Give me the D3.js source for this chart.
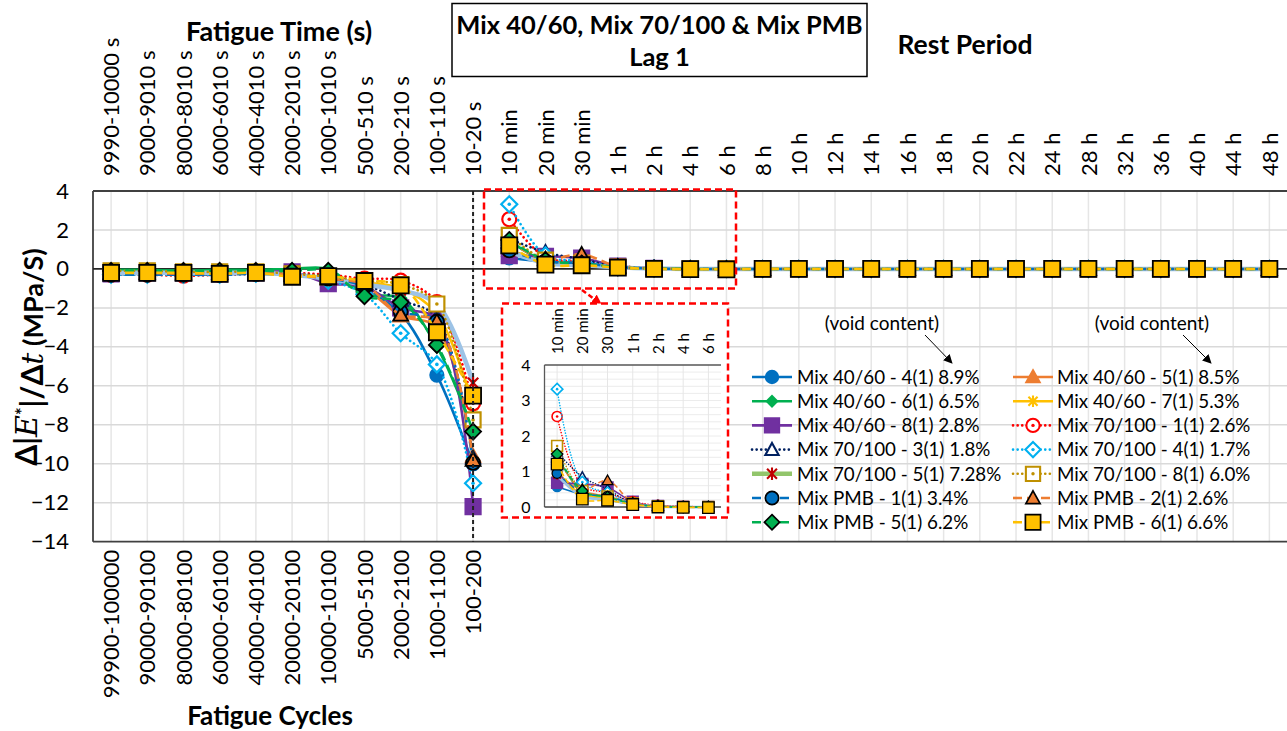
<!DOCTYPE html>
<html><head><meta charset="utf-8">
<script src="https://cdn.jsdelivr.net/npm/d3@7"></script>
<style>
body{margin:0;background:#fff}
svg{display:block}
text{font-family:Lato,"Open Sans","Noto Sans",sans-serif;fill:#000}
</style></head>
<body><svg id="chart" width="1287" height="731"></svg>
<script>
// ---------- DATA ----------
const fatigueTimeLabels = ["9990-10000 s","9000-9010 s","8000-8010 s","6000-6010 s","4000-4010 s","2000-2010 s","1000-1010 s","500-510 s","200-210 s","100-110 s","10-20 s"];
const restLabels = ["10 min","20 min","30 min","1 h","2 h","4 h","6 h","8 h","10 h","12 h","14 h","16 h","18 h","20 h","22 h","24 h","28 h","32 h","36 h","40 h","44 h","48 h"];
const cycleLabels = ["99900-100000","90000-90100","80000-80100","60000-60100","40000-40100","20000-20100","10000-10100","5000-5100","2000-2100","1000-1100","100-200"];
const yTicks = [4,2,0,-2,-4,-6,-8,-10,-12,-14];
const insetTicks = [0,1,2,3,4];
const insetCount = 7; // 10 min .. 6 h

const seriesNames = ["Mix 40/60 - 4(1) 8.9%","Mix 40/60 - 5(1) 8.5%","Mix 40/60 - 6(1) 6.5%","Mix 40/60 - 7(1) 5.3%","Mix 40/60 - 8(1) 2.8%","Mix 70/100 - 1(1) 2.6%","Mix 70/100 - 3(1) 1.8%","Mix 70/100 - 4(1) 1.7%","Mix 70/100 - 5(1) 7.28%","Mix 70/100 - 8(1) 6.0%","Mix PMB - 1(1) 3.4%","Mix PMB - 2(1) 2.6%","Mix PMB - 5(1) 6.2%","Mix PMB - 6(1) 6.6%"];

const mix4060_4_fatigue = [-0.3,-0.25,-0.25,-0.3,-0.2,-0.3,-0.5,-1.1,-2.3,-5.45,-10.0];
const mix4060_4_rest    = [0.57,0.35,0.2,0.08,0.02,0,-0.01,0,0,0,0,0,0,0,0,0,0,0,0,0,0,0];
const mix4060_5_fatigue = [-0.2,-0.2,-0.2,-0.2,-0.2,-0.3,-0.5,-1.0,-2.4,-3.0,-9.6];
const mix4060_5_rest    = [0.95,0.45,0.3,0.1,0.03,0.01,0,0,0,0,0,0,0,0,0,0,0,0,0,0,0,0];
const mix4060_6_fatigue = [-0.05,-0.05,-0.1,-0.05,-0.05,0.0,0.0,-1.3,-1.5,-4.0,-8.3];
const mix4060_6_rest    = [1.45,0.4,0.25,0.1,0.02,0,0,0,0,0,0,0,0,0,0,0,0,0,0,0,0,0];
const mix4060_7_fatigue = [-0.2,-0.2,-0.2,-0.2,-0.25,-0.3,-0.5,-0.7,-1.0,-2.3,-7.0];
const mix4060_7_rest    = [1.0,0.35,0.25,0.1,0.03,0,0,0,0,0,0,0,0,0,0,0,0,0,0,0,0,0];
const mix4060_8_fatigue = [-0.25,-0.2,-0.2,-0.25,-0.2,-0.15,-0.75,-0.9,-2.0,-2.6,-12.2];
const mix4060_8_rest    = [0.68,0.65,0.55,0.15,0.03,0.01,0,0,0,0,0,0,0,0,0,0,0,0,0,0,0,0];
const mix70100_1_fatigue = [-0.3,-0.3,-0.35,-0.3,-0.25,-0.2,-0.3,-0.5,-0.6,-1.7,-6.9];
const mix70100_1_rest    = [2.55,0.6,0.4,0.15,0.05,0.02,0,0,0,0,0,0,0,0,0,0,0,0,0,0,0,0];
const mix70100_3_fatigue = [-0.2,-0.2,-0.2,-0.2,-0.2,-0.25,-0.4,-0.8,-1.6,-2.5,-9.7];
const mix70100_3_rest    = [1.55,0.85,0.5,0.1,0.03,0,0,0,0,0,0,0,0,0,0,0,0,0,0,0,0,0];
const mix70100_4_fatigue = [-0.3,-0.3,-0.3,-0.3,-0.25,-0.3,-0.6,-1.3,-3.3,-4.9,-11.0];
const mix70100_4_rest    = [3.32,0.7,0.4,0.1,0.02,0,0,0,0,0,0,0,0,0,0,0,0,0,0,0,0,0];
const mix70100_5_fatigue = [-0.2,-0.2,-0.2,-0.2,-0.2,-0.3,-0.5,-0.8,-1.1,-1.8,-5.85];
const mix70100_5_rest    = [0.9,0.3,0.2,0.08,0.02,0,0,0,0,0,0,0,0,0,0,0,0,0,0,0,0,0];
const mix70100_8_fatigue = [-0.1,-0.1,-0.15,-0.15,-0.15,-0.25,-0.4,-0.6,-0.8,-1.8,-7.75];
const mix70100_8_rest    = [1.72,0.45,0.3,0.1,0.02,0,0,0,0,0,0,0,0,0,0,0,0,0,0,0,0,0];
const pmb1_fatigue = [-0.3,-0.3,-0.3,-0.3,-0.25,-0.3,-0.5,-0.9,-2.2,-2.7,-9.95];
const pmb1_rest    = [0.95,0.4,0.3,0.1,0.02,0,0,0,0,0,0,0,0,0,0,0,0,0,0,0,0,0];
const pmb2_fatigue = [-0.2,-0.2,-0.25,-0.2,-0.2,-0.3,-0.5,-0.8,-2.35,-2.7,-9.8];
const pmb2_rest    = [1.4,0.5,0.75,0.12,0.03,0,0,0,0,0,0,0,0,0,0,0,0,0,0,0,0,0];
const pmb5_fatigue = [-0.1,-0.1,-0.1,-0.1,-0.1,-0.1,-0.1,-1.4,-1.7,-3.9,-8.35];
const pmb5_rest    = [1.49,0.45,0.28,0.08,0.02,0,0,0,0,0,0,0,0,0,0,0,0,0,0,0,0,0];
const pmb6_fatigue = [-0.2,-0.2,-0.2,-0.25,-0.2,-0.4,-0.37,-0.62,-0.84,-3.25,-6.5];
const pmb6_rest    = [1.21,0.22,0.19,0.07,0,-0.01,-0.02,0,0,0,0,0,0,0,0,0,0,0,0,0,0,0];

const fatigueSeries = [mix4060_4_fatigue,mix4060_5_fatigue,mix4060_6_fatigue,mix4060_7_fatigue,mix4060_8_fatigue,mix70100_1_fatigue,mix70100_3_fatigue,mix70100_4_fatigue,mix70100_5_fatigue,mix70100_8_fatigue,pmb1_fatigue,pmb2_fatigue,pmb5_fatigue,pmb6_fatigue];
const restSeries = [mix4060_4_rest,mix4060_5_rest,mix4060_6_rest,mix4060_7_rest,mix4060_8_rest,mix70100_1_rest,mix70100_3_rest,mix70100_4_rest,mix70100_5_rest,mix70100_8_rest,pmb1_rest,pmb2_rest,pmb5_rest,pmb6_rest];

// ---------- STYLES ----------
const styles = [
 {c:"#0070C0", dash:"solid", m:"circle", fill:"#0070C0", stroke:"#0070C0", size:13},
 {c:"#ED7D31", dash:"solid", m:"triangle", fill:"#ED7D31", stroke:"#ED7D31", size:14},
 {c:"#00B050", dash:"solid", m:"diamond", fill:"#00B050", stroke:"#00B050", size:11},
 {c:"#FFC000", dash:"solid", m:"star", fill:"none", stroke:"#FFC000", size:12},
 {c:"#7030A0", dash:"solid", m:"square", fill:"#7030A0", stroke:"#7030A0", size:15},
 {c:"#FF0000", dash:"dot", m:"circle", fill:"#fff", stroke:"#FF0000", size:14, dot:true},
 {c:"#002060", dash:"dot", m:"triangle", fill:"#fff", stroke:"#002060", size:14},
 {c:"#00B0F0", dash:"dot", m:"diamond", fill:"#fff", stroke:"#00B0F0", size:16, dot:true},
 {c:"#9DC3E6", legendC:"#92C56B", dash:"solid", w:4.5, m:"star", fill:"none", stroke:"#C00000", size:13},
 {c:"#BF9000", dash:"dot", m:"square", fill:"#fff", stroke:"#BF9000", size:15, dot:true},
 {c:"#0070C0", dash:"dash", m:"circle", fill:"#0070C0", stroke:"#000", size:14},
 {c:"#ED7D31", dash:"dash", m:"triangle", fill:"#ED7D31", stroke:"#000", size:15},
 {c:"#00B050", dash:"dash", m:"diamond", fill:"#00B050", stroke:"#000", size:16},
 {c:"#FFC000", dash:"dash", m:"square", fill:"#FFC000", stroke:"#000", size:16}
];

const svg = d3.select("#chart");
const plot = {l:93, r:1287.5, t:191, b:541.7};
const allLabels = fatigueTimeLabels.concat(restLabels);
const x = d3.scalePoint().domain(allLabels).range([plot.l, plot.r]).padding(0.5);
const step = x.step();
const xCyc = d3.scalePoint().domain(cycleLabels).range([plot.l, plot.l + step*cycleLabels.length]).padding(0.5);
const y = d3.scaleLinear().domain([-14,4]).range([plot.b, plot.t]);

function markerPath(type, s){
  const h = s/2;
  switch(type){
    case "circle": return `M${h},0A${h},${h} 0 1,1 ${-h},0A${h},${h} 0 1,1 ${h},0Z`;
    case "square": return `M${-h},${-h}H${h}V${h}H${-h}Z`;
    case "diamond": return `M0,${-h}L${h},0L0,${h}L${-h},0Z`;
    case "triangle": return `M0,${-h}L${h},${h*0.8}L${-h},${h*0.8}Z`;
    case "star": return `M${-h*0.8},${-h*0.8}L${h*0.8},${h*0.8}M${-h*0.8},${h*0.8}L${h*0.8},${-h*0.8}M0,${-h}V${h}`;
  }
}
function dashArray(d, scale){
  if(d==="dot") return `0.1,${4.5*scale}`;
  if(d==="dash") return `${9*scale},${5*scale}`;
  return null;
}
function drawMarker(g, st, cx, cy, k){
  const s = st.size*k;
  g.append("path").attr("d", markerPath(st.m, s)).attr("transform",`translate(${cx},${cy})`)
    .attr("fill", st.fill).attr("stroke", st.stroke)
    .attr("stroke-width", (st.m==="star"?2.2:(st.stroke==="#000"?1.8:2.2))*k)
    .attr("stroke-linejoin","miter");
  if(st.dot) g.append("circle").attr("cx",cx).attr("cy",cy).attr("r",1.8*k).attr("fill",st.stroke);
}

// ---------- GRID ----------
const grid = svg.append("g");
grid.selectAll("line.v").data(allLabels).join("line")
  .attr("x1",d=>x(d)).attr("x2",d=>x(d)).attr("y1",plot.t).attr("y2",plot.b)
  .attr("stroke","#e6e6e6").attr("stroke-width",1.5);
grid.selectAll("line.h").data(yTicks.filter(v=>v!==0 && v!==4 && v!==-14)).join("line")
  .attr("x1",plot.l).attr("x2",plot.r).attr("y1",d=>y(d)).attr("y2",d=>y(d))
  .attr("stroke","#d9d9d9").attr("stroke-width",1.5);

// frame
svg.append("line").attr("x1",plot.l).attr("x2",plot.r).attr("y1",plot.t).attr("y2",plot.t).attr("stroke","#404040").attr("stroke-width",1.8);
svg.append("line").attr("x1",plot.l).attr("x2",plot.r).attr("y1",plot.b).attr("y2",plot.b).attr("stroke","#404040").attr("stroke-width",1.8);
svg.append("line").attr("x1",plot.l).attr("x2",plot.l).attr("y1",plot.t).attr("y2",plot.b).attr("stroke","#404040").attr("stroke-width",1.8);
svg.append("line").attr("x1",plot.l).attr("x2",plot.r).attr("y1",y(0)).attr("y2",y(0)).attr("stroke","#262626").attr("stroke-width",1.8);

// ---------- AXES ----------
const topAxis = svg.append("g").attr("transform",`translate(0,${plot.t})`)
  .call(d3.axisTop(x).tickSize(0));
topAxis.select(".domain").remove();
topAxis.selectAll("text").attr("transform","rotate(-90)").attr("x",15).attr("y",0).attr("dy","0.35em")
  .attr("text-anchor","start").style("font-size","22px").style("font-family","Lato");

const botAxis = svg.append("g").attr("transform",`translate(0,${plot.b})`)
  .call(d3.axisBottom(xCyc).tickSize(0));
botAxis.select(".domain").remove();
botAxis.selectAll("text").attr("transform","rotate(-90)").attr("x",-8).attr("y",0).attr("dy","0.35em")
  .attr("text-anchor","end").style("font-size","22px").style("font-family","Lato");

const leftAxis = svg.append("g").attr("transform",`translate(${plot.l},0)`)
  .call(d3.axisLeft(y).tickValues(yTicks).tickSize(0).tickPadding(24));
leftAxis.select(".domain").remove();
leftAxis.selectAll("text").style("font-size","22px").style("font-family","Lato");

// ---------- SERIES (main) ----------
const lineGen = d3.line().curve(d3.curveCatmullRom.alpha(0.5));
const seriesG = svg.append("g");
fatigueSeries.forEach((fv, si)=>{
  const st = styles[si];
  const g = seriesG.append("g");
  const segs = [
    fv.map((v,i)=>[x(fatigueTimeLabels[i]), y(v)]),
    restSeries[si].map((v,i)=>[x(restLabels[i]), y(v)])
  ];
  segs.forEach(pts=>{
    g.append("path").attr("d", lineGen(pts)).attr("fill","none").attr("stroke", st.c)
      .attr("stroke-width", st.w || 2.6).attr("stroke-linecap", st.dash==="dot"?"round":"butt")
      .attr("stroke-dasharray", dashArray(st.dash,1));
  });
  segs.forEach(pts=>pts.forEach(p=>drawMarker(g, st, p[0], p[1], 1)));
});

// dashed separator
svg.append("line").attr("x1",x(fatigueTimeLabels[10])).attr("x2",x(fatigueTimeLabels[10]))
  .attr("y1",plot.t).attr("y2",plot.b).attr("stroke","#222").attr("stroke-width",2).attr("stroke-dasharray","4,3");

// ---------- HIGHLIGHT + INSET ----------
svg.append("rect").attr("x",484).attr("y",189.5).attr("width",252).attr("height",99)
  .attr("fill","none").attr("stroke","#FF0000").attr("stroke-width",2.5).attr("stroke-dasharray","7,4");
const defs = svg.append("defs");
defs.append("marker").attr("id","redHead").attr("viewBox","0 0 10 10").attr("refX",9).attr("refY",5)
  .attr("markerWidth",4).attr("markerHeight",4).attr("orient","auto")
  .append("path").attr("d","M0,0L10,5L0,10Z").attr("fill","#FF0000");
defs.append("marker").attr("id","blkHead").attr("viewBox","0 0 10 10").attr("refX",9).attr("refY",5)
  .attr("markerWidth",9).attr("markerHeight",9).attr("orient","auto").attr("markerUnits","userSpaceOnUse")
  .append("path").attr("d","M0,0L10,5L0,10Z").attr("fill","#000");
svg.append("line").attr("x1",582).attr("y1",290).attr("x2",601).attr("y2",304)
  .attr("stroke","#FF0000").attr("stroke-width",2.5).attr("stroke-dasharray","5,3").attr("marker-end","url(#redHead)");

svg.append("rect").attr("x",502).attr("y",303.5).attr("width",226).attr("height",214)
  .attr("fill","#fff").attr("stroke","#FF0000").attr("stroke-width",2.5).attr("stroke-dasharray","7,4");

const inLabels = restLabels.slice(0, insetCount);
const ip = {l:544.5, r:721, t:365, b:507};
const xi = d3.scalePoint().domain(inLabels).range([ip.l, ip.r]).padding(0.5);
const yi = d3.scaleLinear().domain([0,4]).range([ip.b, ip.t]);
const ig = svg.append("g");
ig.selectAll("line.h").data(d3.range(0.2,4.01,0.2)).join("line")
  .attr("x1",ip.l).attr("x2",ip.r).attr("y1",d=>yi(d)).attr("y2",d=>yi(d))
  .attr("stroke","#ececec").attr("stroke-width",1);
ig.selectAll("line.v").data(inLabels).join("line")
  .attr("x1",d=>xi(d)).attr("x2",d=>xi(d)).attr("y1",ip.t).attr("y2",ip.b)
  .attr("stroke","#e6e6e6").attr("stroke-width",1);
ig.append("line").attr("x1",ip.l).attr("x2",ip.r).attr("y1",ip.t).attr("y2",ip.t).attr("stroke","#595959").attr("stroke-width",1.3);
ig.append("line").attr("x1",ip.l).attr("x2",ip.l).attr("y1",ip.t).attr("y2",ip.b).attr("stroke","#595959").attr("stroke-width",1.3);
ig.append("line").attr("x1",ip.l).attr("x2",ip.r).attr("y1",ip.b).attr("y2",ip.b).attr("stroke","#404040").attr("stroke-width",1.5);

const iTop = ig.append("g").attr("transform",`translate(0,${ip.t})`).call(d3.axisTop(xi).tickSize(0));
iTop.select(".domain").remove();
iTop.selectAll("text").attr("transform","rotate(-90)").attr("x",11).attr("y",0).attr("dy","0.35em")
  .attr("text-anchor","start").style("font-size","15px").style("font-family","Lato");
const iLeft = ig.append("g").attr("transform",`translate(${ip.l},0)`)
  .call(d3.axisLeft(yi).tickValues(insetTicks).tickFormat(d3.format("d")).tickSize(0).tickPadding(14));
iLeft.select(".domain").remove();
iLeft.selectAll("text").style("font-size","16px").style("font-family","Lato");

const lineGenI = d3.line().curve(d3.curveCatmullRom.alpha(0.5));
restSeries.forEach((rv, si)=>{
  const st = styles[si];
  const g = ig.append("g");
  const pts = rv.slice(0, insetCount).map((v,i)=>[xi(inLabels[i]), yi(v)]);
  g.append("path").attr("d", lineGenI(pts)).attr("fill","none").attr("stroke", st.c)
    .attr("stroke-width", (st.w||2.6)*0.6).attr("stroke-linecap", st.dash==="dot"?"round":"butt")
    .attr("stroke-dasharray", dashArray(st.dash,0.6));
  pts.forEach(p=>drawMarker(g, st, p[0], p[1], 0.72));
});

// ---------- LEGEND ----------
const lg = svg.append("g");
const legCols = [{lx:752, tx:797},{lx:1013, tx:1057}];
seriesNames.forEach((name, si)=>{
  const st = styles[si];
  const col = legCols[si%2];
  const row = Math.floor(si/2);
  const cy = 377 + row*24.2;
  lg.append("line").attr("x1",col.lx).attr("x2",col.lx+40).attr("y1",cy).attr("y2",cy)
    .attr("stroke", st.legendC || st.c).attr("stroke-width", st.w || 2.6)
    .attr("stroke-linecap", st.dash==="dot"?"round":"butt").attr("stroke-dasharray", dashArray(st.dash,1));
  drawMarker(lg, st, col.lx+20, cy, 0.95);
  lg.append("text").attr("x",col.tx).attr("y",cy).attr("dy","0.36em").style("font-size","18.8px").text(name);
});

// void content notes
[{tx:882, x1:925, x2:952},{tx:1152, x1:1183, x2:1211}].forEach(n=>{
  svg.append("text").attr("x",n.tx).attr("y",323).attr("dy","0.35em").attr("text-anchor","middle")
    .style("font-size","19px").text("(void content)");
  svg.append("line").attr("x1",n.x1).attr("y1",335).attr("x2",n.x2).attr("y2",363)
    .attr("stroke","#000").attr("stroke-width",1).attr("marker-end","url(#blkHead)");
});

// ---------- TITLES ----------
svg.append("rect").attr("x",452).attr("y",3.5).attr("width",415).attr("height",73).attr("fill","#fff").attr("stroke","#000").attr("stroke-width",1.5);
svg.append("text").attr("x",659.5).attr("y",25).attr("dy","0.35em").attr("text-anchor","middle")
  .style("font-size","25.5px").style("font-weight","bold").text("Mix 40/60, Mix 70/100 & Mix PMB");
svg.append("text").attr("x",659.5).attr("y",57).attr("dy","0.35em").attr("text-anchor","middle")
  .style("font-size","25.5px").style("font-weight","bold").text("Lag 1");
svg.append("text").attr("x",279).attr("y",32).attr("dy","0.35em").attr("text-anchor","middle")
  .style("font-size","27px").style("font-weight","bold").text("Fatigue Time (s)");
svg.append("text").attr("x",965).attr("y",45).attr("dy","0.35em").attr("text-anchor","middle")
  .style("font-size","26.5px").style("font-weight","bold").text("Rest Period");
svg.append("text").attr("x",270).attr("y",716).attr("dy","0.35em").attr("text-anchor","middle")
  .style("font-size","26px").style("font-weight","bold").text("Fatigue Cycles");

const yt = svg.append("text").attr("transform","translate(28,357) rotate(-90)").attr("text-anchor","middle")
  .attr("dy","0.35em").style("font-size","27px").style("font-weight","bold");
yt.append("tspan").style("font-size","30px").text("Δ|");
yt.append("tspan").style("font-style","italic").style("font-family","'DejaVu Serif',serif").style("font-weight","normal").style("font-size","30px").text("E");
yt.append("tspan").attr("dy","-0.45em").style("font-size","18px").text("*");
yt.append("tspan").attr("dy","0.45em").style("font-size","30px").text("|/Δ");
yt.append("tspan").style("font-style","italic").style("font-family","'DejaVu Serif',serif").style("font-weight","normal").style("font-size","30px").text("t");
yt.append("tspan").text(" (MPa/S)");
</script></body></html>
